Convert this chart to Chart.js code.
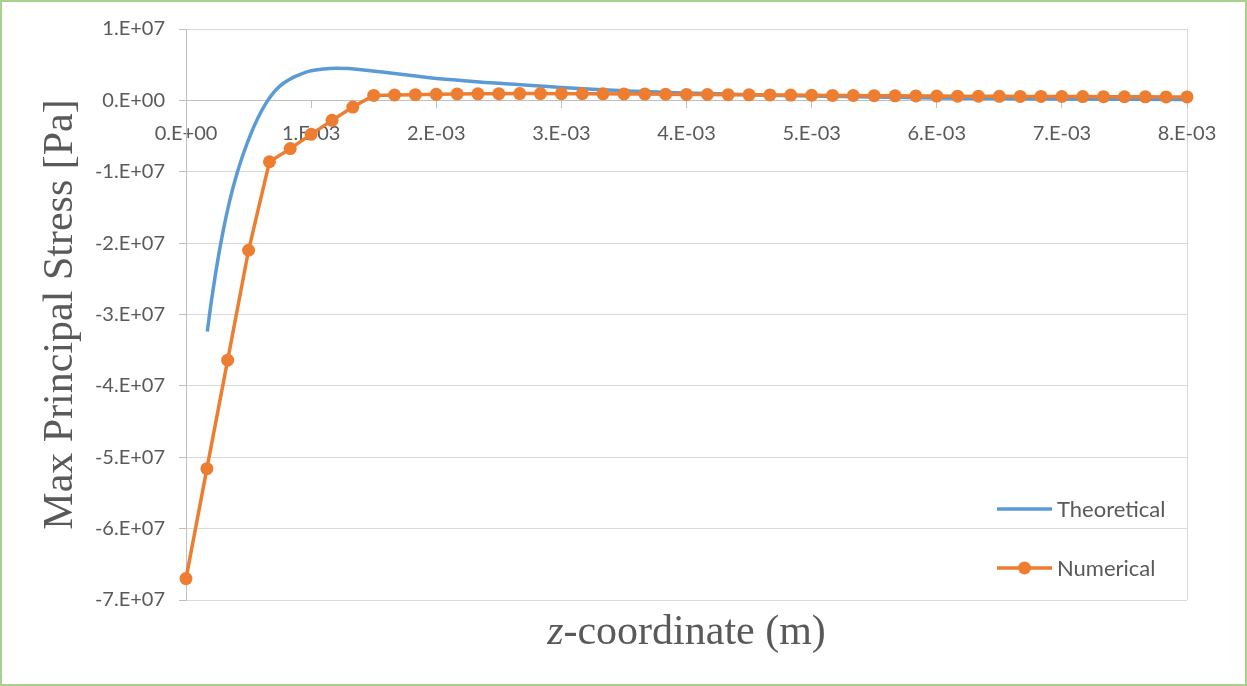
<!DOCTYPE html>
<html>
<head>
<meta charset="utf-8">
<title>Max Principal Stress</title>
<script src="https://cdn.jsdelivr.net/npm/chart.js@4.4.1/dist/chart.umd.min.js"></script>
<style>
  body { margin: 0; background: #fff; }
  #frame { width: 1247px; height: 686px; box-sizing: border-box; border: 2px solid #a9d18e; background: #fff; }
  canvas { display: block; }
</style>
</head>
<body>
<div id="frame"><canvas id="myChart" width="1243" height="682"></canvas></div>
<script>
"use strict";
// values: z in m, stress in Pa
const theoryZ = [0.000170, 0.000200, 0.000250, 0.000300, 0.000350, 0.000400, 0.000450, 0.000500,
    0.000550, 0.000600, 0.000650, 0.000700, 0.000750, 0.000800, 0.000850, 0.000900, 0.000950,
    0.001000, 0.001100, 0.001200, 0.001300, 0.001400, 0.001600, 0.001800, 0.002000, 0.002500,
    0.003000, 0.003500, 0.004000, 0.004500, 0.005000, 0.006000, 0.007000, 0.008000];
const theoryStress = [-3.24e7, -2.85e7, -2.28e7, -1.80e7, -1.40e7, -1.07e7, -0.79e7, -0.55e7,
    -0.34e7, -0.16e7, -0.01e7, 0.11e7, 0.20e7, 0.265e7, 0.315e7, 0.355e7, 0.39e7,
    0.415e7, 0.44e7, 0.45e7, 0.445e7, 0.43e7, 0.39e7, 0.35e7, 0.305e7, 0.24e7,
    0.18e7, 0.135e7, 0.105e7, 0.08e7, 0.06e7, 0.035e7, 0.02e7, 0.013e7];
const numericZ = [0, 0.000167, 0.000333, 0.000500, 0.000667, 0.000833, 0.001000, 0.001167,
    0.001333, 0.001500, 0.001667, 0.001833, 0.002000, 0.002167, 0.002333, 0.002500, 0.002667,
    0.002833, 0.003000, 0.003167, 0.003333, 0.003500, 0.003667, 0.003833, 0.004000, 0.004167,
    0.004333, 0.004500, 0.004667, 0.004833, 0.005000, 0.005167, 0.005333, 0.005500, 0.005667,
    0.005833, 0.006000, 0.006167, 0.006333, 0.006500, 0.006667, 0.006833, 0.007000, 0.007167,
    0.007333, 0.007500, 0.007667, 0.007833, 0.008000];
const numericStress = [-6.70e7, -5.16e7, -3.64e7, -2.10e7, -0.86e7, -0.676e7, -0.476e7, -0.28e7,
    -0.094e7, 0.070e7, 0.075e7, 0.080e7, 0.085e7, 0.090e7, 0.092e7, 0.094e7, 0.095e7,
    0.095e7, 0.094e7, 0.093e7, 0.092e7, 0.090e7, 0.088e7, 0.086e7, 0.084e7, 0.082e7,
    0.080e7, 0.078e7, 0.076e7, 0.074e7, 0.072e7, 0.070e7, 0.068e7, 0.066e7, 0.064e7,
    0.062e7, 0.060e7, 0.059e7, 0.058e7, 0.057e7, 0.056e7, 0.055e7, 0.054e7, 0.053e7,
    0.052e7, 0.051e7, 0.050e7, 0.049e7, 0.048e7];
const seriesNames = ['Theoretical', 'Numerical'];
const xTickLabels = ['0.E+00', '1.E-03', '2.E-03', '3.E-03', '4.E-03', '5.E-03', '6.E-03', '7.E-03', '8.E-03'];
const yTickLabels = ['-7.E+07', '-6.E+07', '-5.E+07', '-4.E+07', '-3.E+07', '-2.E+07', '-1.E+07', '0.E+00', '1.E+07'];
const xTitleItalic = 'z';
const xTitleRest = '-coordinate (m)';
const yTitle = 'Max Principal Stress [Pa]';

const textGray = '#595959';
const gridGray = '#d9d9d9';
const axisGray = '#bfbfbf';
const blue = '#5b9bd5';
const orange = '#ed7d31';

function toPoints(xs, ys) {
    let pts = [];
    for (let i = 0; i < xs.length; i++) {
        pts.push({ x: xs[i], y: ys[i] });
    }
    return pts;
}

// axis titles and the legend box sit where Excel put them
const titlesAndLegend = {
    id: 'titlesAndLegend',
    afterDraw(chart) {
        const ctx = chart.ctx;
        const area = chart.chartArea;
        ctx.save();
        ctx.fillStyle = textGray;
        ctx.font = '42px "Liberation Serif"';
        ctx.textAlign = 'center';
        ctx.textBaseline = 'alphabetic';
        ctx.translate(70, (area.top + area.bottom) / 2);
        ctx.rotate(-Math.PI / 2);
        ctx.fillText(yTitle, 0, 0);
        ctx.restore();

        ctx.save();
        ctx.fillStyle = textGray;
        ctx.textBaseline = 'alphabetic';
        ctx.textAlign = 'left';
        ctx.font = 'italic 42px "Liberation Serif"';
        const w1 = ctx.measureText(xTitleItalic).width;
        ctx.font = '42px "Liberation Serif"';
        const w2 = ctx.measureText(xTitleRest).width;
        let x = (area.left + area.right) / 2 - (w1 + w2) / 2;
        ctx.font = 'italic 42px "Liberation Serif"';
        ctx.fillText(xTitleItalic, x, 642);
        ctx.font = '42px "Liberation Serif"';
        ctx.fillText(xTitleRest, x + w1, 642);
        ctx.restore();

        ctx.save();
        ctx.font = '22px Lato';
        ctx.textBaseline = 'middle';
        ctx.textAlign = 'left';
        const sets = chart.data.datasets;
        for (let i = 0; i < sets.length; i++) {
            const y = 507 + i * 59;
            ctx.strokeStyle = sets[i].borderColor;
            ctx.lineWidth = sets[i].borderWidth;
            ctx.beginPath();
            ctx.moveTo(995, y);
            ctx.lineTo(1050, y);
            ctx.stroke();
            if (sets[i].pointRadius > 0) {
                ctx.fillStyle = sets[i].pointBackgroundColor;
                ctx.beginPath();
                ctx.arc(1022.5, y, sets[i].pointRadius, 0, Math.PI * 2);
                ctx.fill();
            }
            ctx.fillStyle = textGray;
            ctx.fillText(sets[i].label, 1055, y + 1);
        }
        ctx.restore();
    }
};

Chart.defaults.font.family = 'Lato';
Chart.defaults.color = textGray;

const data = {
    datasets: [{
        label: seriesNames[0],
        data: toPoints(theoryZ, theoryStress),
        borderColor: blue,
        backgroundColor: blue,
        borderWidth: 3.5,
        pointRadius: 0,
        tension: 0.4,
        order: 2
    },
    {
        label: seriesNames[1],
        data: toPoints(numericZ, numericStress),
        borderColor: orange,
        backgroundColor: orange,
        pointBackgroundColor: orange,
        pointBorderColor: orange,
        borderWidth: 3.5,
        pointRadius: 6.5,
        pointBorderWidth: 0,
        tension: 0,
        clip: 10,
        order: 1
    }]
};

const config = {
    type: 'line',
    data: data,
    options: {
        responsive: false,
        animation: false,
        events: [],
        devicePixelRatio: 1,
        layout: {
            padding: { left: 0, top: 27, right: 58, bottom: 84 }
        },
        plugins: {
            legend: { display: false },
            tooltip: { enabled: false }
        },
        scales: {
            x: {
                type: 'linear',
                position: { y: 0 },
                min: 0,
                max: 0.008,
                ticks: {
                    stepSize: 0.001,
                    autoSkip: false,
                    maxRotation: 0,
                    padding: 14,
                    color: textGray,
                    font: { size: 20 },
                    callback: (value, index) => xTickLabels[index]
                },
                grid: {
                    color: (c) => (c.tick && c.tick.value >= 0.008 - 1e-9) ? gridGray : 'rgba(0,0,0,0)',
                    tickColor: axisGray,
                    tickLength: 7
                },
                border: { color: axisGray, width: 1 }
            },
            y: {
                type: 'linear',
                position: 'left',
                min: -7e7,
                max: 1e7,
                afterFit: (scale) => { scale.width = 184; },
                ticks: {
                    stepSize: 1e7,
                    padding: 14,
                    color: textGray,
                    font: { size: 20 },
                    callback: (value, index) => yTickLabels[index]
                },
                grid: {
                    color: gridGray,
                    tickColor: axisGray,
                    tickLength: 7
                },
                border: { color: axisGray, width: 1 }
            }
        }
    },
    plugins: [titlesAndLegend]
};

let canvasChart = document.getElementById('myChart');
const myChart = new Chart(canvasChart, config);
</script>
</body>
</html>
